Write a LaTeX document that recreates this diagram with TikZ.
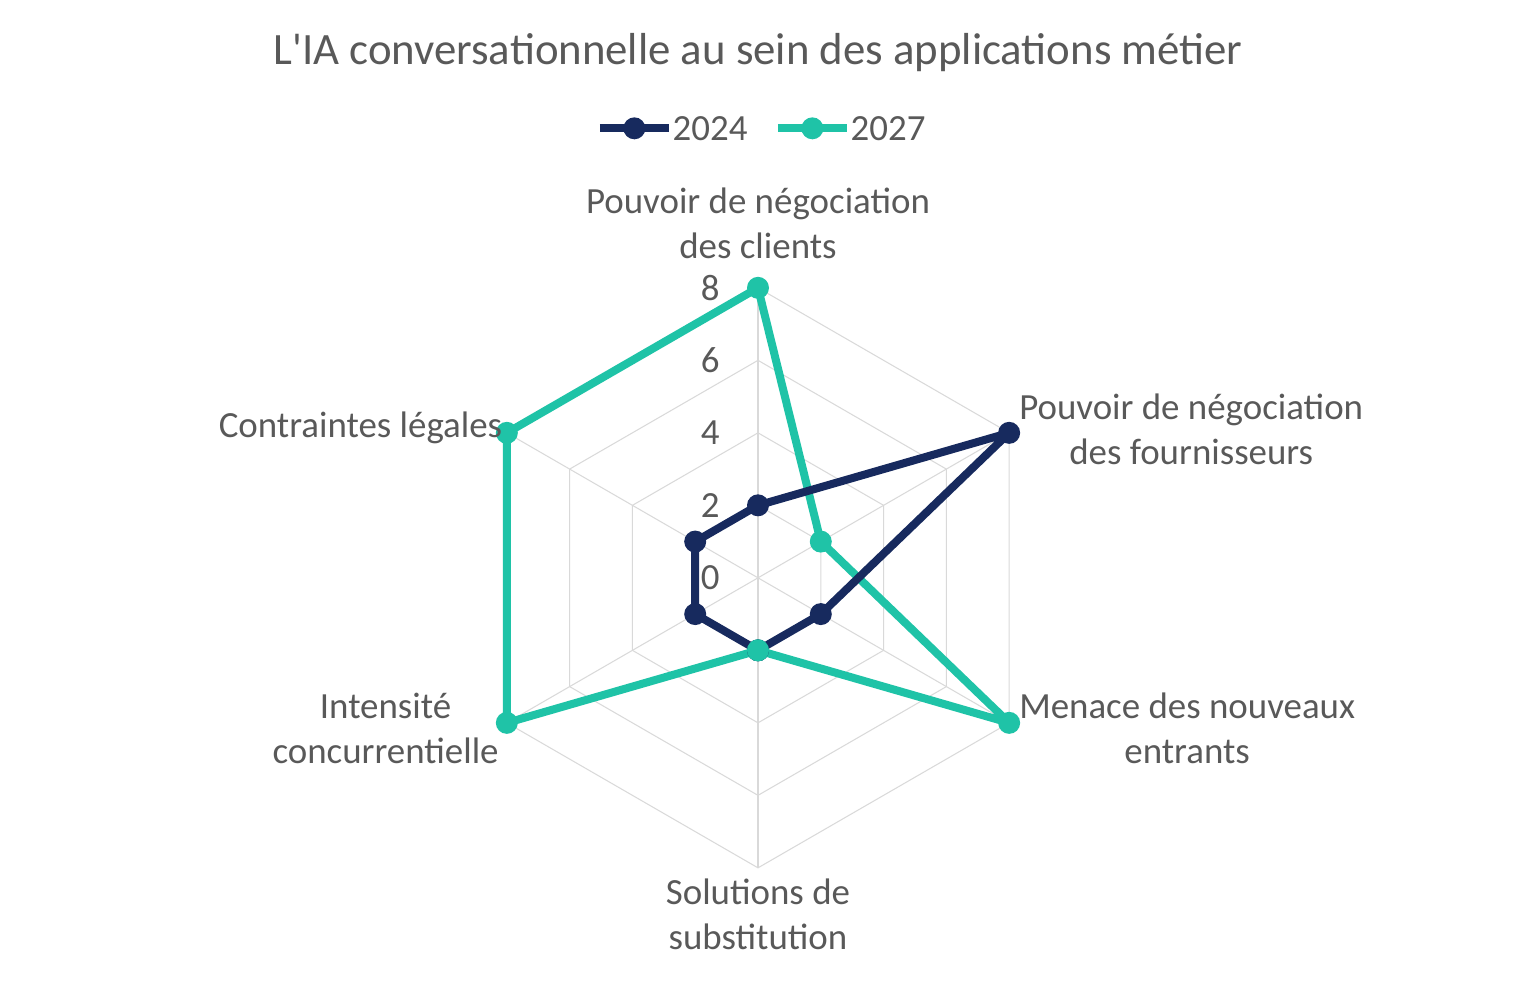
\documentclass[tikz,border=0pt]{standalone}
\usepackage{fontspec}
\setmainfont{Carlito}
\usetikzlibrary{positioning,calc}
\definecolor{navy}{HTML}{172A5E}
\definecolor{teal}{HTML}{1FC3A7}
\definecolor{txt}{HTML}{595959}
\definecolor{grid}{HTML}{D9D9D9}
\tikzstyle{ring} = [draw=grid, line width=0.6pt]
\tikzstyle{serie} = [line width=1.6mm, line join=round]
\tikzstyle{pt} = [circle, inner sep=0pt, minimum size=4.4mm]
\tikzstyle{lbl} = [text=txt, font=\fontsize{21}{25.6}\selectfont, align=center, inner sep=2pt]
\begin{document}
\begin{tikzpicture}[x=0.725cm, y=0.725cm]
                    \useasboundingbox (-20.91, -11.28) rectangle (21.02, 15.94);
                    % grid
                    \foreach \r in {2,4,6,8}
                        \draw [ring] (90:\r) -- (30:\r) -- (-30:\r) -- (-90:\r) -- (210:\r) -- (150:\r) -- cycle;
                    \foreach \a in {90,30,-30,-90,210,150}
                        \draw [ring] (0,0) -- (\a:8);
                    % tick labels
                    \foreach \v in {0,2,4,6,8}
                        \node [lbl, anchor=east] (t\v) at (-0.95, \v) {\v};
                    % series 2027
                    \coordinate (b1) at (90:8);
                    \coordinate (b2) at (30:2);
                    \coordinate (b3) at (-30:8);
                    \coordinate (b4) at (-90:2);
                    \coordinate (b5) at (210:8);
                    \coordinate (b6) at (150:8);
                    \draw [serie, teal] (b1) -- (b2) -- (b3) -- (b4) -- (b5) -- (b6) -- cycle;
                    % series 2024
                    \coordinate (a1) at (90:2);
                    \coordinate (a2) at (30:8);
                    \coordinate (a3) at (-30:2);
                    \coordinate (a4) at (-90:2);
                    \coordinate (a5) at (210:2);
                    \coordinate (a6) at (150:2);
                    \draw [serie, navy] (a1) -- (a2) -- (a3) -- (a4) -- (a5) -- (a6) -- cycle;
                    \foreach \i in {1,...,6} {
                        \node [pt, fill=teal] at (b\i) {};
                        \node [pt, fill=navy] at (a\i) {};
                    }
                    \node [pt, fill=teal] at (b4) {};
                    % axis labels
                    \node [lbl, anchor=south] (clients) at (0, 8.7) {Pouvoir de négociation\\des clients};
                    \node [lbl, anchor=west] (fourn) at (7.1, 4.1) {Pouvoir de négociation\\des fournisseurs};
                    \node [lbl, anchor=west] (menace) at (7.1, -4.15) {Menace des nouveaux\\entrants};
                    \node [lbl, anchor=north] (subst) at (0, -8.2) {Solutions de\\substitution};
                    \node [lbl, anchor=east] (intens) at (-7.05, -4.15) {Intensité\\concurrentielle};
                    \node [lbl, anchor=east] (legal) at (-6.95, 4.15) {Contraintes légales};
                    % title and legend
                    \node [lbl, font=\fontsize{25.5}{30}\selectfont] (title) at (0, 14.5) {L\textquotesingle IA conversationnelle au sein des applications métier};
                    \coordinate (l1) at (-4.36, 12.4);
                    \coordinate (l2) at (0.55, 12.4);
                    \draw [serie, navy] (l1) -- ++(1.9, 0);
                    \node [pt, fill=navy] at ($(l1)+(0.95,0)$) {};
                    \node [lbl, anchor=west] (k1) at ($(l1)+(1.9,0)$) {2024};
                    \draw [serie, teal] (l2) -- ++(1.9, 0);
                    \node [pt, fill=teal] at ($(l2)+(0.95,0)$) {};
                    \node [lbl, anchor=west] (k2) at ($(l2)+(1.9,0)$) {2027};
                \end{tikzpicture}
\end{document}
